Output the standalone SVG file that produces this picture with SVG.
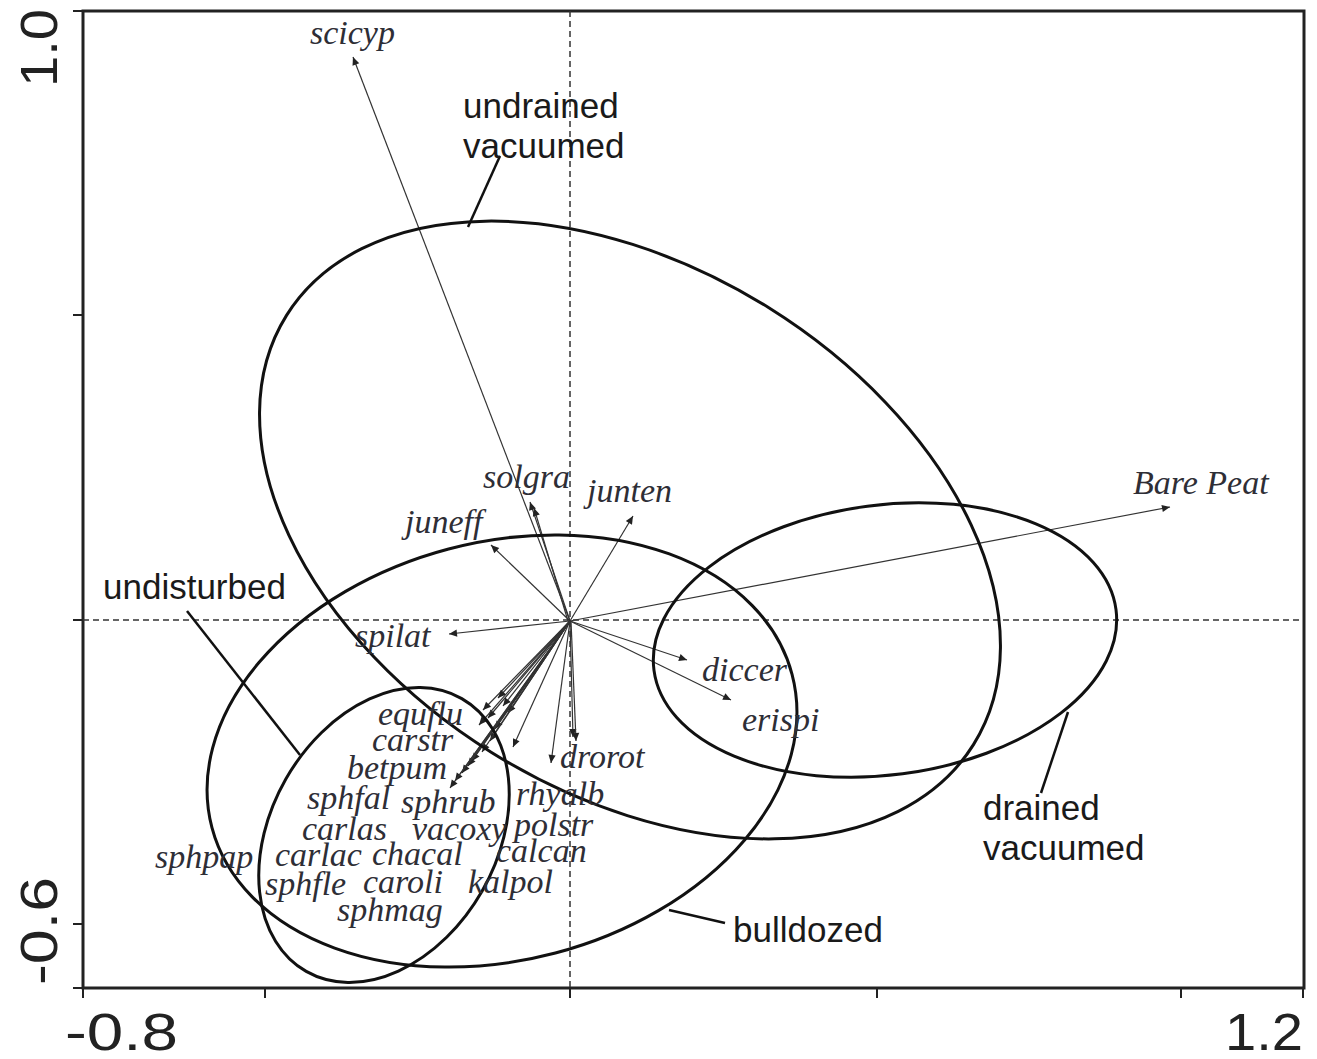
<svg xmlns="http://www.w3.org/2000/svg" width="1317" height="1059" viewBox="0 0 1317 1059">
<style>
.sp{font-family:"Liberation Serif","Times New Roman",serif;font-style:italic;font-size:34px;fill:#2e2e36}
.grp{font-family:"Liberation Sans",Arial,sans-serif;font-size:35px;fill:#1a1a1a}
.ax{font-family:"Liberation Sans",Arial,sans-serif;font-size:52px;fill:#222}
.ell{fill:none;stroke:#111;stroke-width:3}
.lead{fill:none;stroke:#111;stroke-width:2.5}
.frame{fill:none;stroke:#222;stroke-width:3}
.tick{stroke:#222;stroke-width:2}
.dash{stroke:#333;stroke-width:1.5;stroke-dasharray:6 4;fill:none}
.arr{stroke:#333;stroke-width:1.2;fill:none;marker-end:url(#ah)}
</style>
<defs>
<marker id="ah" viewBox="0 0 10 10" refX="10" refY="5" markerWidth="11" markerHeight="8" markerUnits="userSpaceOnUse" orient="auto"><path d="M0,0.5 L10,5 L0,9.5 z" fill="#222"/></marker>
</defs>
<rect width="1317" height="1059" fill="#fff"/>
<g id="axes">
<path class="frame" d="M83,11 H1304 V988 H83 Z"/>
<path class="tick" d="M73,11 H83 M73,315 H83 M73,620 H83 M73,924 H83 M73,988 H83"/>
<path class="tick" d="M83,988 V998 M265,988 V998 M570,988 V998 M877,988 V998 M1181,988 V998 M1303,988 V998"/>
<line class="dash" x1="83" y1="620" x2="1303" y2="620"/>
<line class="dash" x1="570" y1="11" x2="570" y2="988"/>
<text class="ax" x="65" y="1050" textLength="113" lengthAdjust="spacingAndGlyphs">-0.8</text>
<text class="ax" x="1225" y="1050" textLength="78" lengthAdjust="spacingAndGlyphs">1.2</text>
<text class="ax" transform="translate(57,48) rotate(-90)" text-anchor="middle" textLength="78" lengthAdjust="spacingAndGlyphs">1.0</text>
<text class="ax" transform="translate(57,931) rotate(-90)" text-anchor="middle" textLength="108" lengthAdjust="spacingAndGlyphs">-0.6</text>
</g>
<g id="connectors">
<line class="arr" x1="570" y1="621" x2="353" y2="57"/>
<line class="arr" x1="570" y1="621" x2="1170" y2="507"/>
<line class="arr" x1="570" y1="621" x2="530" y2="502"/>
<line class="arr" x1="568" y1="621" x2="534" y2="508"/>
<line class="arr" x1="570" y1="621" x2="633" y2="516"/>
<line class="arr" x1="570" y1="621" x2="491" y2="545"/>
<line class="arr" x1="570" y1="621" x2="449" y2="634"/>
<line class="arr" x1="570" y1="621" x2="687" y2="660"/>
<line class="arr" x1="570" y1="621" x2="731" y2="700"/>
<line class="arr" x1="570" y1="621" x2="573" y2="737"/>
<line class="arr" x1="571" y1="621" x2="576" y2="741"/>
<line class="arr" x1="570" y1="621" x2="551" y2="763"/>
<line class="arr" x1="570" y1="621" x2="513" y2="747"/>
<line class="arr" x1="570" y1="621" x2="483" y2="710"/>
<line class="arr" x1="570" y1="621" x2="488" y2="718"/>
<line class="arr" x1="570" y1="621" x2="498" y2="698"/>
<line class="arr" x1="570" y1="621" x2="503" y2="706"/>
<line class="arr" x1="570" y1="621" x2="508" y2="713"/>
<line class="arr" x1="570" y1="621" x2="479" y2="725"/>
<line class="arr" x1="570" y1="621" x2="495" y2="729"/>
<line class="arr" x1="570" y1="621" x2="490" y2="741"/>
<line class="arr" x1="570" y1="621" x2="482" y2="752"/>
<line class="arr" x1="570" y1="621" x2="472" y2="761"/>
<line class="arr" x1="570" y1="621" x2="468" y2="766"/>
<line class="arr" x1="570" y1="621" x2="462" y2="773"/>
<line class="arr" x1="570" y1="621" x2="455" y2="781"/>
<line class="arr" x1="570" y1="621" x2="450" y2="788"/>
</g>
<g id="undrained-vacuumed">
<ellipse class="ell" cx="630" cy="530" rx="405" ry="262" transform="rotate(32 630 530)"/>
<line class="lead" x1="500" y1="156" x2="468" y2="227"/>
<text class="grp" x="463" y="118">undrained</text>
<text class="grp" x="463" y="158">vacuumed</text>
</g>
<g id="bulldozed">
<ellipse class="ell" cx="502" cy="751" rx="300" ry="209" transform="rotate(-14.8 502 751)"/>
<polyline class="lead" points="669,910 725,923"/>
<text class="grp" x="733" y="942">bulldozed</text>
</g>
<g id="undisturbed">
<ellipse class="ell" cx="384" cy="835" rx="157" ry="113" transform="rotate(-60.3 384 835)"/>
<line class="lead" x1="187" y1="611" x2="300" y2="755"/>
<text class="grp" x="103" y="599">undisturbed</text>
</g>
<g id="drained-vacuumed">
<ellipse class="ell" cx="885" cy="640" rx="233" ry="135" transform="rotate(-7.5 885 640)"/>
<line class="lead" x1="1068" y1="712" x2="1041" y2="793"/>
<text class="grp" x="983" y="820">drained</text>
<text class="grp" x="983" y="860">vacuumed</text>
</g>
<g id="species">
<g id="sp-scicyp"><text class="sp" x="310" y="44">scicyp</text></g>
<g id="sp-solgra"><text class="sp" x="483" y="488">solgra</text></g>
<g id="sp-junten"><text class="sp" x="587" y="502">junten</text></g>
<g id="sp-juneff"><text class="sp" x="405" y="533">juneff</text></g>
<g id="sp-barepeat"><text class="sp" x="1133" y="494">Bare Peat</text></g>
<g id="sp-spilat"><text class="sp" x="355" y="647">spilat</text></g>
<g id="sp-diccer"><text class="sp" x="702" y="681">diccer</text></g>
<g id="sp-erispi"><text class="sp" x="742" y="731">erispi</text></g>
<g id="sp-equflu"><text class="sp" x="378" y="725">equflu</text></g>
<g id="sp-carstr"><text class="sp" x="372" y="751">carstr</text></g>
<g id="sp-drorot"><text class="sp" x="560" y="768">drorot</text></g>
<g id="sp-betpum"><text class="sp" x="347" y="779">betpum</text></g>
<g id="sp-sphfal"><text class="sp" x="307" y="809">sphfal</text></g>
<g id="sp-sphrub"><text class="sp" x="401" y="813">sphrub</text></g>
<g id="sp-rhyalb"><text class="sp" x="516" y="805">rhyalb</text></g>
<g id="sp-carlas"><text class="sp" x="302" y="840">carlas</text></g>
<g id="sp-vacoxy"><text class="sp" x="412" y="840">vacoxy</text></g>
<g id="sp-polstr"><text class="sp" x="514" y="836">polstr</text></g>
<g id="sp-sphpap"><text class="sp" x="155" y="868">sphpap</text></g>
<g id="sp-carlac"><text class="sp" x="275" y="866">carlac</text></g>
<g id="sp-chacal"><text class="sp" x="372" y="865">chacal</text></g>
<g id="sp-calcan"><text class="sp" x="496" y="862">calcan</text></g>
<g id="sp-sphfle"><text class="sp" x="265" y="895">sphfle</text></g>
<g id="sp-caroli"><text class="sp" x="363" y="893">caroli</text></g>
<g id="sp-kalpol"><text class="sp" x="468" y="893">kalpol</text></g>
<g id="sp-sphmag"><text class="sp" x="337" y="921">sphmag</text></g>
</g>
</svg>
